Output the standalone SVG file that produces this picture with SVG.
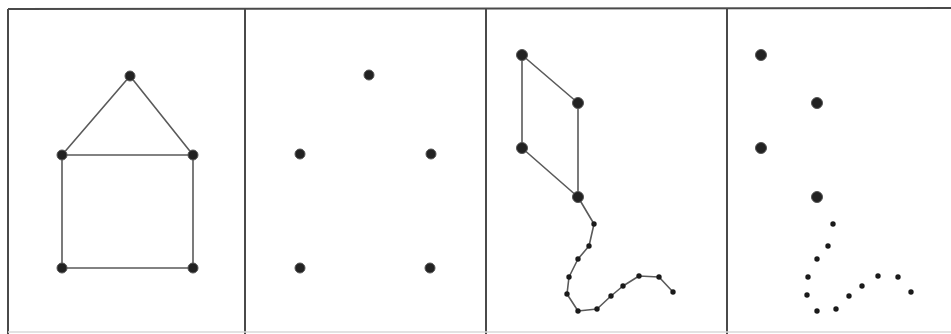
<svg xmlns="http://www.w3.org/2000/svg" width="951" height="334" viewBox="0 0 951 334">
<style>
.frame{stroke:#4a4a4a;stroke-width:2;fill:none}
.faint{stroke:#d8d8d8;stroke-width:1.5;fill:none}
.edge{stroke:#5a5a5a;stroke-width:1.6;fill:none;stroke-linejoin:round}
.big{fill:#222;stroke:#555;stroke-width:1}
.small{fill:#1a1a1a}
</style>
<rect width="951" height="334" fill="#fff"/>
<g id="frame">
<line class="frame" x1="8" y1="9" x2="951" y2="8"/>
<line class="frame" x1="8" y1="9" x2="8" y2="334"/>
<line class="frame" x1="245" y1="9" x2="245" y2="334"/>
<line class="frame" x1="486" y1="9" x2="486" y2="334"/>
<line class="frame" x1="727" y1="8" x2="727" y2="334"/>
<line class="faint" x1="8" y1="332" x2="951" y2="332"/>
</g>
<g id="connectors">
<polyline class="edge" points="62,155 130,76 193,155"/>
<polygon class="edge" points="62,155 193,155 193,268 62,268"/>
<polygon class="edge" points="522,55 578,103 578,197 522,148"/>
<polyline class="edge" points="578,197 594,224 589,246 578,259 569,277 567,294 578,311 597,309 611,296 623,286 639,276 659,277 673,292"/>
</g>
<g id="panel1">
<circle class="big" cx="130" cy="76" r="5"/>
<circle class="big" cx="62" cy="155" r="5"/>
<circle class="big" cx="193" cy="155" r="5"/>
<circle class="big" cx="62" cy="268" r="5"/>
<circle class="big" cx="193" cy="268" r="5"/>
</g>
<g id="panel2">
<circle class="big" cx="369" cy="75" r="5"/>
<circle class="big" cx="300" cy="154" r="5"/>
<circle class="big" cx="431" cy="154" r="5"/>
<circle class="big" cx="300" cy="268" r="5"/>
<circle class="big" cx="430" cy="268" r="5"/>
</g>
<g id="panel3">
<circle class="big" cx="522" cy="55" r="5.5"/>
<circle class="big" cx="578" cy="103" r="5.5"/>
<circle class="big" cx="522" cy="148" r="5.5"/>
<circle class="big" cx="578" cy="197" r="5.5"/>
<circle class="small" cx="594" cy="224" r="2.7"/>
<circle class="small" cx="589" cy="246" r="2.7"/>
<circle class="small" cx="578" cy="259" r="2.7"/>
<circle class="small" cx="569" cy="277" r="2.7"/>
<circle class="small" cx="567" cy="294" r="2.7"/>
<circle class="small" cx="578" cy="311" r="2.7"/>
<circle class="small" cx="597" cy="309" r="2.7"/>
<circle class="small" cx="611" cy="296" r="2.7"/>
<circle class="small" cx="623" cy="286" r="2.7"/>
<circle class="small" cx="639" cy="276" r="2.7"/>
<circle class="small" cx="659" cy="277" r="2.7"/>
<circle class="small" cx="673" cy="292" r="2.7"/>
</g>
<g id="panel4">
<circle class="big" cx="761" cy="55" r="5.5"/>
<circle class="big" cx="817" cy="103" r="5.5"/>
<circle class="big" cx="761" cy="148" r="5.5"/>
<circle class="big" cx="817" cy="197" r="5.5"/>
<circle class="small" cx="833" cy="224" r="2.7"/>
<circle class="small" cx="828" cy="246" r="2.7"/>
<circle class="small" cx="817" cy="259" r="2.7"/>
<circle class="small" cx="808" cy="277" r="2.7"/>
<circle class="small" cx="807" cy="295" r="2.7"/>
<circle class="small" cx="817" cy="311" r="2.7"/>
<circle class="small" cx="836" cy="309" r="2.7"/>
<circle class="small" cx="849" cy="296" r="2.7"/>
<circle class="small" cx="862" cy="286" r="2.7"/>
<circle class="small" cx="878" cy="276" r="2.7"/>
<circle class="small" cx="898" cy="277" r="2.7"/>
<circle class="small" cx="911" cy="292" r="2.7"/>
</g>
</svg>
